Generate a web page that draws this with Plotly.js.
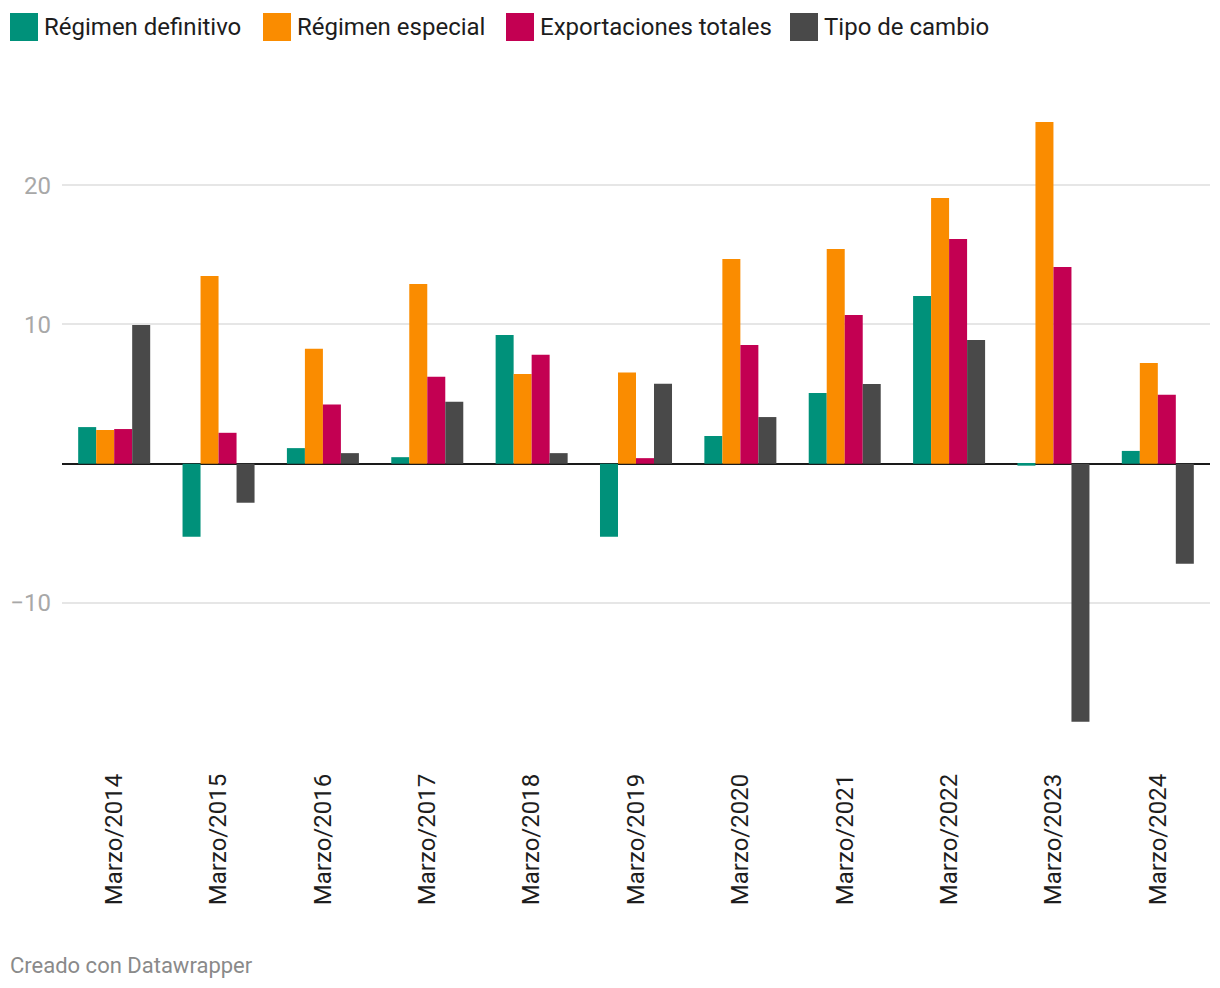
<!DOCTYPE html>
<html>
<head>
<meta charset="utf-8">
<script src="https://cdn.plot.ly/plotly-3.0.1.min.js"></script>
<style>
  html, body { margin: 0; padding: 0; background: #ffffff; }
  #chart { width: 1220px; height: 988px; }
</style>
</head>
<body>
<div id="chart"></div>
<script>
// ---- Data ----
var categories = ["Marzo/2014", "Marzo/2015", "Marzo/2016", "Marzo/2017", "Marzo/2018", "Marzo/2019",
                  "Marzo/2020", "Marzo/2021", "Marzo/2022", "Marzo/2023", "Marzo/2024"];
var regimenDefinitivo = [2.63, -5.25, 1.12, 0.47, 9.25, -5.25, 1.99, 5.07, 12.04, -0.14, 0.92];
var regimenEspecial   = [2.42, 13.47, 8.25, 12.9, 6.45, 6.55, 14.7, 15.41, 19.07, 24.53, 7.24];
var exportaciones     = [2.49, 2.22, 4.25, 6.25, 7.82, 0.4, 8.52, 10.67, 16.13, 14.12, 4.95];
var tipoCambio        = [9.96, -2.8, 0.76, 4.45, 0.76, 5.74, 3.35, 5.72, 8.88, -18.52, -7.18];
var seriesNames = ["Régimen definitivo", "Régimen especial", "Exportaciones totales", "Tipo de cambio"];
var yTickVals = [-10, 10, 20];
var yTickText = ["\u221210", "10", "20"];

// ---- Styles ----
var colors = ["#00917a", "#fa8c00", "#c30052", "#494949"];
var FONT = "Roboto, 'Noto Sans', sans-serif";
var W = 1220, H = 988;
var M = {l: 62, r: 10, t: 90, b: 228};

var seriesData = [regimenDefinitivo, regimenEspecial, exportaciones, tipoCambio];
var traces = seriesData.map(function (vals, i) {
  return {
    type: "bar",
    name: seriesNames[i],
    x: categories,
    y: vals,
    marker: {color: colors[i], line: {width: 0}},
    hoverinfo: "x+y+name",
    showlegend: false
  };
});

// helpers: pixel -> paper
function px(x) { return (x - M.l) / (W - M.l - M.r); }
function py(y) { return (H - M.b - y) / (H - M.t - M.b); }

// manual legend
var legendSquares = [10, 263, 506, 790];
var shapes = [];
var annotations = [];
legendSquares.forEach(function (x0, i) {
  shapes.push({
    type: "rect", xref: "paper", yref: "paper",
    x0: px(x0), x1: px(x0 + 28), y0: py(41), y1: py(13),
    fillcolor: colors[i], line: {width: 0}
  });
  annotations.push({
    xref: "paper", yref: "paper", x: px(x0 + 32), y: py(27),
    xanchor: "left", yanchor: "middle", showarrow: false,
    text: seriesNames[i], font: {family: FONT, size: 24, color: "#1d1d1d"}
  });
});
annotations.push({
  xref: "paper", yref: "paper", x: px(8), y: py(965),
  xanchor: "left", yanchor: "middle", showarrow: false,
  text: "Creado con Datawrapper", font: {family: FONT, size: 22, color: "#8a8a8a"}
});

var layout = {
  width: W, height: H,
  margin: M,
  paper_bgcolor: "#ffffff",
  plot_bgcolor: "#ffffff",
  font: {family: FONT},
  barmode: "group",
  bargap: 0.31,
  bargroupgap: 0,
  showlegend: false,
  xaxis: {
    type: "category",
    tickangle: -90,
    tickfont: {family: FONT, size: 24, color: "#1d1d1d"},
    showgrid: false,
    zeroline: false,
    showline: false,
    ticks: "",
    ticklabelstandoff: 8,
    fixedrange: true
  },
  yaxis: {
    range: [-21.27, 26.83],
    tickvals: yTickVals,
    ticktext: yTickText,
    tickfont: {family: FONT, size: 24, color: "#a8a8a8"},
    showgrid: true,
    gridcolor: "#e6e6e6",
    gridwidth: 2,
    zeroline: true,
    zerolinecolor: "#1a1a1a",
    zerolinewidth: 2,
    showline: false,
    ticks: "",
    ticklabelstandoff: 10,
    fixedrange: true
  },
  shapes: shapes,
  annotations: annotations
};

Plotly.newPlot("chart", traces, layout, {displayModeBar: false});
</script>
</body>
</html>
